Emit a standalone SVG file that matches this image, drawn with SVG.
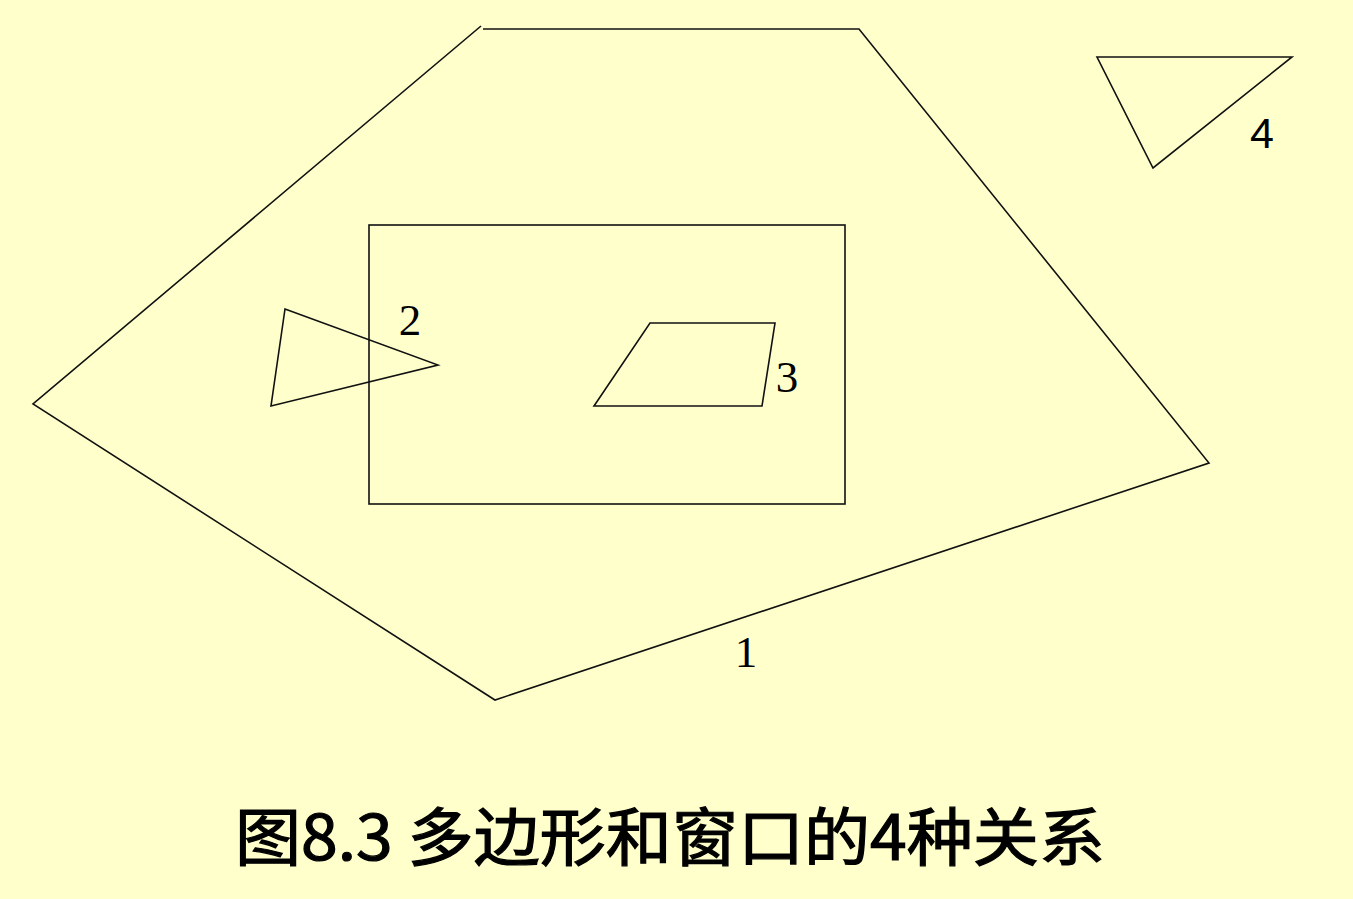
<svg xmlns="http://www.w3.org/2000/svg" width="1353" height="899" viewBox="0 0 1353 899">
<style>
.ln{fill:none;stroke:#111;stroke-width:1.6;stroke-linejoin:miter}
.lbl{font-family:"Liberation Serif","Times New Roman",serif;font-size:45px;fill:#000}
.lbls{font-family:"Liberation Sans",Arial,sans-serif;font-size:43px;fill:#000}
.title{font-family:"Noto Sans CJK SC","Noto Sans CJK JP",sans-serif;font-size:63px;font-weight:normal;fill:#000;stroke:#000;stroke-width:1.2}
</style>
<rect width="1353" height="899" fill="#FFFFCC"/>
<g id="polygon1">
<polyline class="ln" points="481,26 33,404 495,700 1209,463 859,29 483,29"/>
<text class="lbl" x="746" y="667" text-anchor="middle">1</text>
</g>
<g id="window">
<rect class="ln" x="369" y="225" width="476" height="279"/>
</g>
<g id="polygon2">
<polygon class="ln" points="285,309 438,365 271,406"/>
<text class="lbl" x="410" y="335" text-anchor="middle">2</text>
</g>
<g id="polygon3">
<polygon class="ln" points="650,323 775,323 762,406 594,406"/>
<text class="lbl" x="787" y="392" text-anchor="middle">3</text>
</g>
<g id="polygon4">
<polygon class="ln" points="1097,57 1292,57 1153,168"/>
<text class="lbls" x="1262" y="148" text-anchor="middle">4</text>
</g>
<g id="connectors"></g>
<text class="title" x="235" y="860" textLength="870" lengthAdjust="spacingAndGlyphs">图8.3 多边形和窗口的4种关系</text>
</svg>
